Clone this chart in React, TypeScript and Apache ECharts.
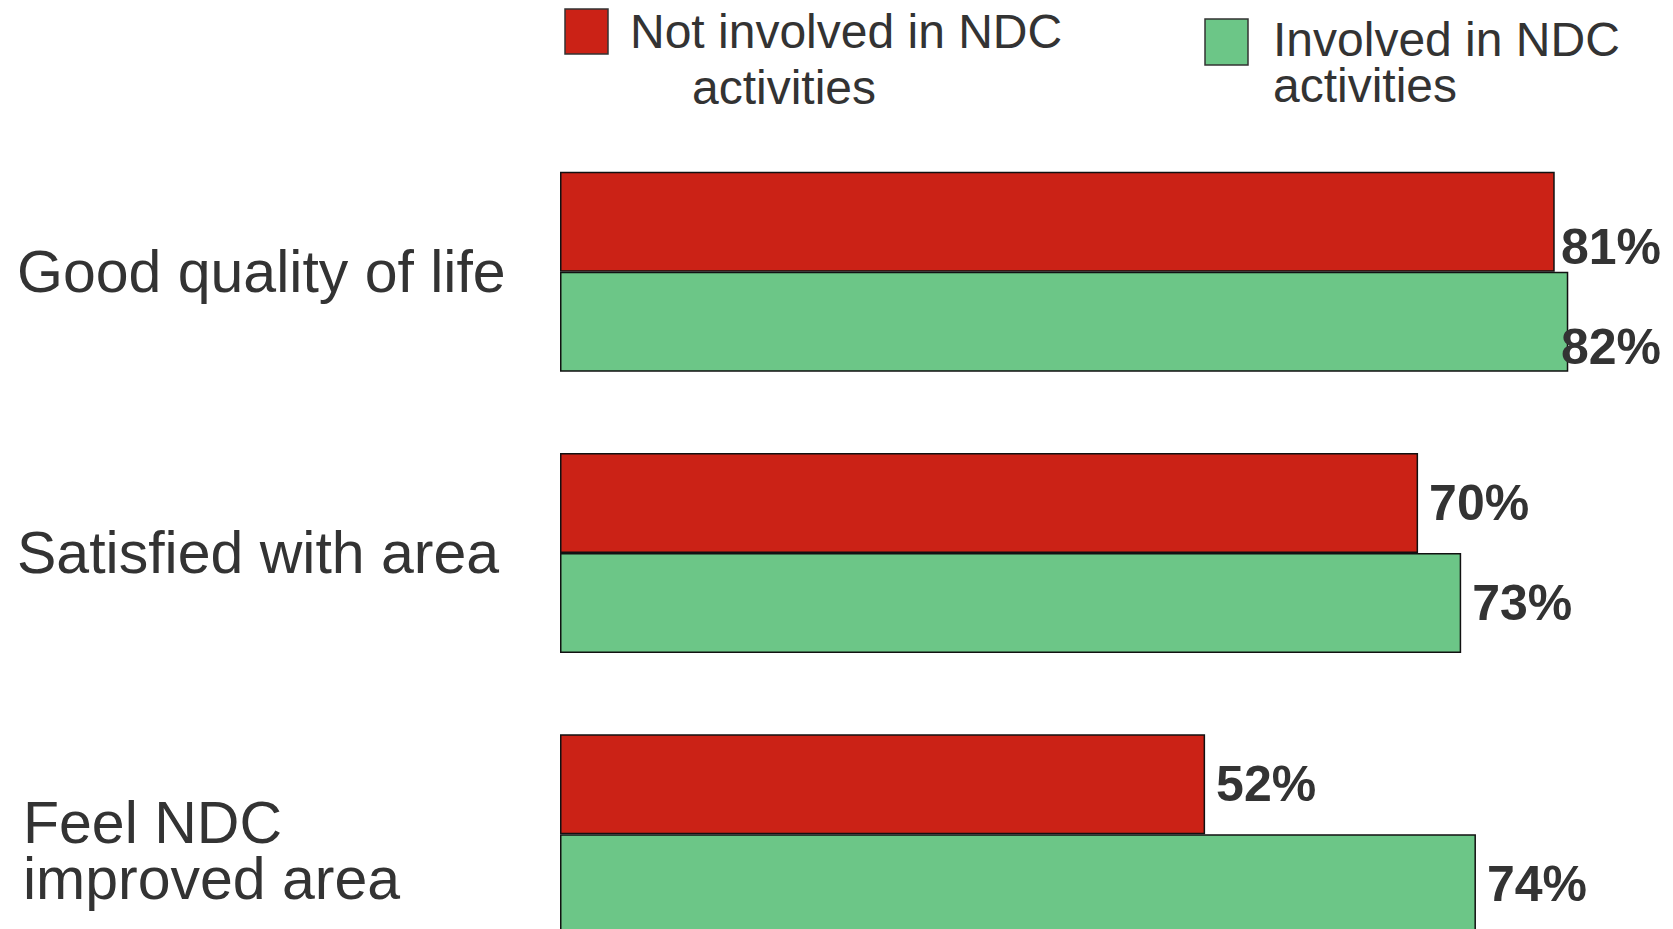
import React, { useEffect, useRef } from "react";
import * as echarts from "echarts";

const W = 1673;
const H = 929;

const categories = ["Good quality of life", "Satisfied with area", "Feel NDC\nimproved area"];
const seriesNames = ["Not involved in NDC activities", "Involved in NDC activities"];
const notInvolved = [80.8, 69.7, 52.4];
const involved = [81.9, 73.2, 74.4];

const RED = "#CB2216";
const GREEN = "#6CC687";
const TEXT = "#333333";
const FONT = "'Liberation Sans', Arial, Helvetica, sans-serif";

export default function App() {
  const ref = useRef<HTMLDivElement>(null);

  useEffect(() => {
    if (!ref.current) return;
    const chart = echarts.init(ref.current, undefined, { renderer: "svg" });

    const labelCfg = {
      show: true,
      position: "right",
      distance: 11,
      fontSize: 50,
      fontWeight: "bold",
      color: TEXT,
      fontFamily: FONT,
      formatter: (p: any) => Math.round(p.value) + "%",
    };

    const axisText = {
      align: "left",
      fontSize: 59,
      lineHeight: 55,
      color: TEXT,
      fontFamily: FONT,
    };

    const option: any = {
      animation: false,
      backgroundColor: "#ffffff",
      grid: {
        left: 560,
        right: 5,
        top: 131,
        bottom: -46,
        containLabel: false,
        outerBoundsMode: "none",
      },
      xAxis: { type: "value", min: 0, max: 90, show: false },
      yAxis: {
        type: "category",
        inverse: true,
        data: categories.map((c) =>
          c.indexOf("\n") >= 0
            ? { value: c, textStyle: { ...axisText, padding: [0, 0, 0, 6] } }
            : c
        ),
        axisLine: { show: false },
        axisTick: { show: false },
        splitLine: { show: false },
        axisLabel: {
          margin: 543,
          ...axisText,
          formatter: (v: string) => {
            const lines = v.split("\n");
            if (lines.length < 2) return v;
            return "{a|" + lines[0] + "}\n{b|" + lines[1] + "}";
          },
          rich: {
            a: { fontSize: 59, lineHeight: 90, color: TEXT, fontFamily: FONT },
            b: { fontSize: 59, lineHeight: 22, color: TEXT, fontFamily: FONT },
          },
        },
      },
      labelLayout: (params: any) => {
        const r = params.labelRect;
        const limit = W - 12;
        if (r && r.x + r.width > limit) return { x: limit - r.width };
        return {};
      },
      series: [
        {
          name: seriesNames[0],
          type: "bar",
          data: notInvolved,
          barWidth: 100,
          barGap: "0%",
          itemStyle: { color: RED, borderColor: "#111111", borderWidth: 1.5 },
          label: labelCfg,
        },
        {
          name: seriesNames[1],
          type: "bar",
          data: involved,
          barWidth: 100,
          barGap: "0%",
          itemStyle: { color: GREEN, borderColor: "#111111", borderWidth: 1.5 },
          label: labelCfg,
        },
      ],
      graphic: [
        {
          type: "rect",
          shape: { x: 565, y: 9, width: 43, height: 45 },
          style: { fill: RED, stroke: "#333333", lineWidth: 1.5 },
        },
        {
          type: "text",
          x: 630,
          y: 31,
          style: { text: "Not involved in NDC", fontSize: 48, fontFamily: FONT, fill: TEXT, verticalAlign: "middle" },
        },
        {
          type: "text",
          x: 692,
          y: 87,
          style: { text: "activities", fontSize: 48, fontFamily: FONT, fill: TEXT, verticalAlign: "middle" },
        },
        {
          type: "rect",
          shape: { x: 1205, y: 19, width: 43, height: 46 },
          style: { fill: GREEN, stroke: "#333333", lineWidth: 1.5 },
        },
        {
          type: "text",
          x: 1273,
          y: 39,
          style: { text: "Involved in NDC", fontSize: 48, fontFamily: FONT, fill: TEXT, verticalAlign: "middle" },
        },
        {
          type: "text",
          x: 1273,
          y: 85,
          style: { text: "activities", fontSize: 48, fontFamily: FONT, fill: TEXT, verticalAlign: "middle" },
        },
      ],
    };

    chart.setOption(option);
    return () => chart.dispose();
  }, []);

  return (
    <div
      ref={ref}
      style={{ position: "fixed", left: 0, top: 0, width: W, height: H, background: "#fff" }}
    />
  );
}
